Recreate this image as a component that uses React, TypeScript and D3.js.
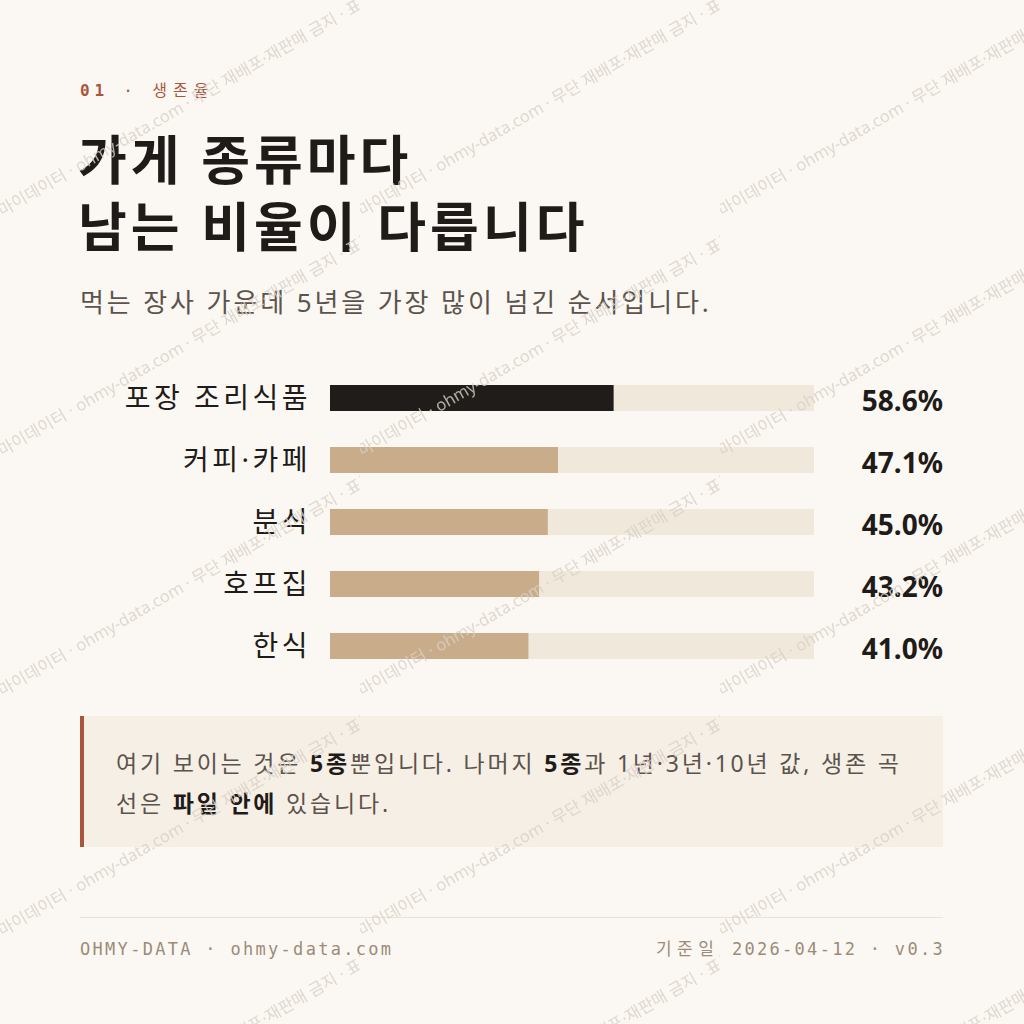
import React from 'react';
import * as d3 from 'd3';

const categories = ['포장 조리식품', '커피·카페', '분식', '호프집', '한식'];
const survival5y = [58.6, 47.1, 45.0, 43.2, 41.0];
const highlightIndex = 0;

const kicker = ['01', '·', '생존율'];
const titleLines = ['가게 종류마다', '남는 비율이 다릅니다'];
const subtitle = '먹는 장사 가운데 5년을 가장 많이 넘긴 순서입니다.';
const footerLeft = 'OHMY-DATA · ohmy-data.com';
const footerRight = ['기준일', '2026-04-12 · v0.3'];
const watermark = '· 마이데이터 · ohmy-data.com · 무단 재배포·재판매 금지 · 표본 자료';

const W = 1024;
const H = 1024;
const left = 80;
const right = 943;

const sans = '"Noto Sans", "Noto Sans CJK KR", sans-serif';
const mono = '"DejaVu Sans Mono", "Liberation Mono", "Noto Sans CJK KR", monospace';

const ink = '#1f1b18';
const muted = '#5b534c';
const rust = '#a9553d';
const tan = '#c9ad8b';
const track = '#f1e8dc';
const bg = '#fbf8f3';

export default function App() {
  // bar scale: 0..100 % over the track
  const x = d3.scaleLinear().domain([0, 100]).range([330, 814]);
  const y = d3.scalePoint<string>().domain(categories).range([398, 646]);
  const barH = 26;

  return (
    <svg
      width={W}
      height={H}
      viewBox={`0 0 ${W} ${H}`}
      style={{ position: 'absolute', left: 0, top: 0, display: 'block' }}
    >
      <defs>
        <pattern id="wm" patternUnits="userSpaceOnUse" width={360} height={240} y={-22}>
          <text
            x={-6}
            y={0}
            transform="translate(0 240) rotate(-30)"
            fontFamily={sans}
            fontSize={16.5}
            fill="#d8d0c5"
            opacity={0.8}
          >
            {watermark}
          </text>
        </pattern>
      </defs>

      <rect width={W} height={H} fill={bg} />

      {/* kicker */}
      <text x={left} y={96} fontFamily={mono} fontSize={16} fill={rust} letterSpacing={4.8}>
        <tspan fontWeight="bold">{kicker[0]}</tspan>
        <tspan> {kicker[1]} </tspan>
        <tspan fontFamily={sans} letterSpacing={6}>{kicker[2]}</tspan>
      </text>

      {/* title */}
      {titleLines.map((t, i) => (
        <text
          key={t}
          x={left - 2}
          y={180 + i * 67}
          fontFamily={sans}
          fontWeight="bold"
          fontSize={53}
          letterSpacing={4}
          fill={ink}
        >
          {t}
        </text>
      ))}

      <text x={left} y={312} fontFamily={sans} fontSize={26} letterSpacing={2.9} fill={muted}>
        {subtitle}
      </text>

      {/* bars */}
      {categories.map((c, i) => {
        const cy = y(c) as number;
        return (
          <g key={c}>
            <text
              x={311}
              y={cy}
              dy="0.36em"
              textAnchor="end"
              fontFamily={sans}
              fontSize={28}
              letterSpacing={3.5}
              fill={ink}
            >
              {c}
            </text>
            <rect x={x(0)} y={cy - barH / 2} width={x(100) - x(0)} height={barH} fill={track} />
            <rect
              x={x(0)}
              y={cy - barH / 2}
              width={x(survival5y[i]) - x(0)}
              height={barH}
              fill={i === highlightIndex ? '#201c19' : tan}
            />
            <text
              x={right}
              y={cy + 13}
              textAnchor="end"
              fontFamily={sans}
              fontWeight="bold"
              fontSize={28}
              fill={ink}
            >
              {d3.format('.1f')(survival5y[i])}%
            </text>
          </g>
        );
      })}

      {/* note box */}
      <rect x={left} y={716} width={right - left} height={131} fill="#f6efe6" />
      <rect x={left} y={716} width={4} height={131} fill={rust} />
      <g fontFamily={sans} fontSize={23} letterSpacing={2.8} fill={muted}>
        <text x={116} y={772}>
          여기 보이는 것은 <tspan fontWeight="bold" fill={ink}>5종</tspan>뿐입니다. 나머지{' '}
          <tspan fontWeight="bold" fill={ink}>5종</tspan>과 1년·3년·10년 값, 생존 곡
        </text>
        <text x={116} y={812}>
          선은 <tspan fontWeight="bold" fill={ink}>파일 안에</tspan> 있습니다.
        </text>
      </g>

      {/* footer */}
      <line x1={left} x2={right} y1={917.5} y2={917.5} stroke="#e9e2d7" strokeWidth={1} />
      <text x={left} y={955} fontFamily={mono} fontSize={17} fill="#9c8b78" letterSpacing={2.3}>
        {footerLeft}
      </text>
      <text
        x={right + 2}
        y={955}
        textAnchor="end"
        fontFamily={mono}
        fontSize={17}
        fill="#9c8b78"
        letterSpacing={2.3}
      >
        <tspan letterSpacing={5.5}>{footerRight[0]}</tspan> {footerRight[1]}
      </text>

      {/* watermark overlay */}
      <rect width={W} height={H} fill="url(#wm)" pointerEvents="none" />
    </svg>
  );
}
